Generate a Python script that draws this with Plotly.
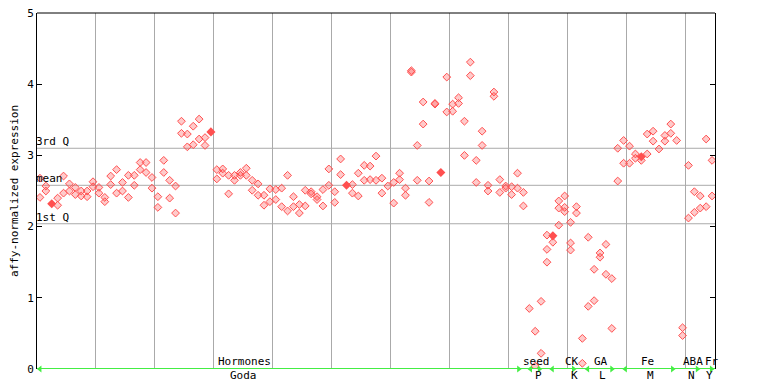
import plotly.graph_objects as go

# ---- data ----
n_samples = 115
rep_a = [2.41,2.57,None,2.40,2.71,2.60,2.55,2.50,2.50,2.63,
         2.55,2.41,2.71,2.80,2.62,2.72,2.72,2.90,2.90,2.69,
         2.42,2.93,2.65,2.57,3.48,3.30,3.41,3.51,3.25,None,
         2.80,2.81,2.72,2.72,2.76,2.82,2.65,2.60,2.44,2.53,
         2.52,2.54,2.72,2.42,2.31,2.51,2.49,2.42,2.52,2.81,
         2.49,2.95,None,2.59,2.75,2.86,2.85,2.99,2.68,2.57,
         2.62,2.75,2.54,4.19,3.14,3.75,2.64,3.73,None,4.10,
         3.72,3.81,3.48,4.31,2.93,3.34,2.58,3.89,2.66,2.57,
         2.56,2.75,2.48,0.85,0.53,0.95,1.88,1.78,2.02,2.43,
         2.06,2.28,0.43,1.85,1.40,1.63,1.75,1.27,2.64,3.21,
         3.13,3.02,2.93,3.30,3.34,3.09,3.28,3.44,3.21,0.58,
         2.86,2.49,2.43,3.23,2.93]
rep_b = [2.68,2.50,None,2.30,2.47,2.50,2.45,2.43,2.42,2.56,
         2.47,2.35,2.59,2.47,2.50,2.41,2.58,2.80,2.76,2.54,
         2.27,2.76,2.40,2.19,3.31,3.12,3.15,3.23,3.14,None,
         2.67,2.75,2.46,2.65,2.72,2.72,2.51,2.44,2.30,2.35,
         2.38,2.28,2.22,2.28,2.19,2.29,2.46,2.38,2.29,2.58,
         2.34,2.73,None,2.47,2.43,2.65,2.66,2.65,2.47,None,
         2.33,2.66,2.44,4.17,2.65,3.44,2.34,3.72,None,3.61,
         3.62,3.73,3.00,4.12,2.62,3.14,2.50,3.83,2.48,2.54,
         2.45,2.54,2.29,None,0.04,0.22,1.68,None,2.26,2.27,
         1.77,2.19,0.08,0.88,0.96,1.57,1.33,0.57,3.10,2.89,
         2.89,2.96,None,3.02,3.20,None,3.20,3.31,None,0.47,
         2.12,2.20,2.26,2.28,2.43]
extra_idx = [86, 88, 89, 90]
extra_val = [1.50, 2.36, 2.21, 1.67]
highlight_idx = [2, 29, 52, 68, 87, 102]
highlight_val = [2.32, 3.33, 2.58, 2.76, 1.87, 2.98]

q_labels = ["3rd Q", "mean", "1st Q"]
q_values = [3.10, 2.58, 2.04]

top_labels = ["Hormones", "seed", "CK", "GA", "Fe", "ABA", "Fr"]
top_pos = [35.2, 84.7, 90.7, 95.7, 103.6, 111.2, 114.5]
bot_labels = ["Goda", "P", "K", "L", "M", "N", "Y"]
bot_pos = [35.0, 85.0, 91.1, 96.0, 104.0, 111.0, 114.1]
arrow_right = [81.7, 85.2, 91.0, 97.5, 107.8, 112.0, 114.4]
arrow_left = [0.5, 83.7, 87.4, 93.4, 99.8]

RED = "#ff5050"
GREEN = "#44ee44"
FONT = "DejaVu Sans Mono"

xs = [i + 0.5 for i in range(n_samples)]

fig = go.Figure()
hollow = dict(symbol="diamond", size=6, color="rgba(255,80,80,0.3)",
              line=dict(width=1, color=RED))
fig.add_trace(go.Scatter(x=xs, y=rep_a, mode="markers", marker=hollow, showlegend=False))
fig.add_trace(go.Scatter(x=xs, y=rep_b, mode="markers", marker=hollow, showlegend=False))
fig.add_trace(go.Scatter(x=[i + 0.5 for i in extra_idx], y=extra_val, mode="markers",
                         marker=hollow, showlegend=False))
fig.add_trace(go.Scatter(x=[i + 0.5 for i in highlight_idx], y=highlight_val, mode="markers",
                         marker=dict(symbol="diamond", size=7, color=RED), showlegend=False))

# green baseline arrows
fig.add_trace(go.Scatter(x=arrow_right, y=[0]*len(arrow_right), mode="markers",
                         marker=dict(symbol="triangle-right", size=6, color=GREEN),
                         showlegend=False, cliponaxis=False))
fig.add_trace(go.Scatter(x=arrow_left, y=[0]*len(arrow_left), mode="markers",
                         marker=dict(symbol="triangle-left", size=6, color=GREEN),
                         showlegend=False, cliponaxis=False))

shapes = []
for v in q_values:
    shapes.append(dict(type="line", xref="x", yref="y", x0=0, x1=n_samples, y0=v, y1=v,
                       line=dict(color="#aaaaaa", width=1), layer="below"))
shapes.append(dict(type="line", xref="paper", yref="paper", x0=0, x1=1, y0=1, y1=1,
                   line=dict(color="black", width=1)))
shapes.append(dict(type="line", xref="x", yref="y", x0=0, x1=n_samples, y0=0, y1=0,
                   line=dict(color=GREEN, width=2)))

annotations = []
for lab, v in zip(q_labels, q_values):
    annotations.append(dict(x=0, y=v, xref="x", yref="y", text=lab, showarrow=False,
                            xanchor="left", yanchor="bottom", yshift=-1, xshift=-2,
                            borderpad=0,
                            font=dict(family=FONT, size=11, color="black")))
for lab, p in zip(top_labels, top_pos):
    annotations.append(dict(x=p, y=0, xref="x", yref="y", text=lab, showarrow=False,
                            xanchor="center", yanchor="bottom", yshift=0, borderpad=0,
                            font=dict(family=FONT, size=11, color="black")))
for lab, p in zip(bot_labels, bot_pos):
    annotations.append(dict(x=p, y=0, xref="x", yref="y", text=lab, showarrow=False,
                            xanchor="center", yanchor="top", yshift=1, borderpad=0,
                            font=dict(family=FONT, size=11, color="black")))

# the page places the figure 8px from the top-left corner, so the figure is
# 760x376 and the margins are chosen so the plot sits where the reference's does
fig.update_layout(
    width=760, height=376,
    margin=dict(l=29, r=53, t=5, b=15, autoexpand=False),
    paper_bgcolor="white", plot_bgcolor="white",
    shapes=shapes, annotations=annotations,
    font=dict(family=FONT, size=11, color="black"),
    xaxis=dict(range=[0, n_samples], showgrid=True, gridcolor="#aaaaaa", gridwidth=1,
               tick0=0, dtick=10, showticklabels=False, ticks="", zeroline=False,
               showline=False, automargin=False),
    yaxis=dict(range=[0, 5], showgrid=False, zeroline=False, showline=True,
               linecolor="black", linewidth=1, mirror="ticks", ticks="inside",
               ticklen=5, tickcolor="black", tickvals=[0, 1, 2, 3, 4, 5],
               tickfont=dict(family=FONT, size=11), automargin=False,
               ticklabeloverflow="allow",
               title=dict(text="affy-normalized expression", standoff=9,
                          font=dict(family=FONT, size=11))),
)

fig.write_html("out.html")
